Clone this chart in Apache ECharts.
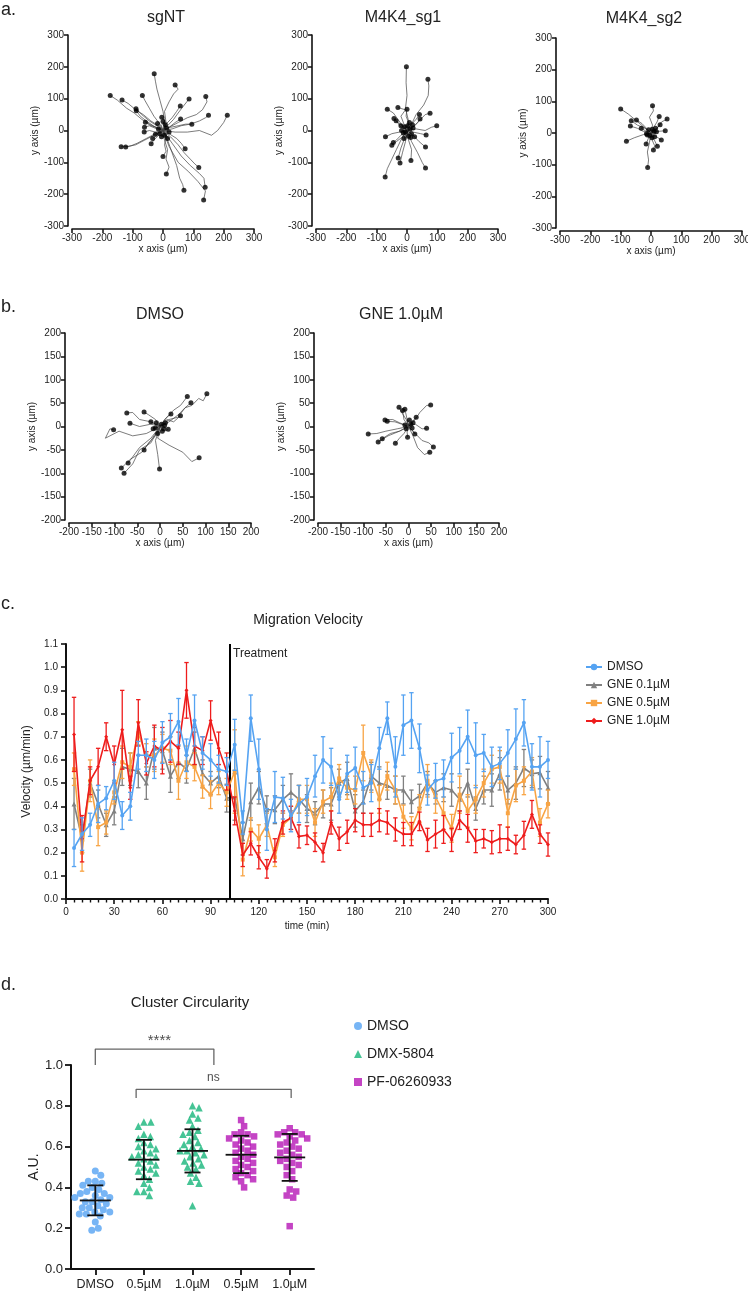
<!DOCTYPE html>
<html><head><meta charset="utf-8">
<script src="https://cdn.jsdelivr.net/npm/echarts@6/dist/echarts.min.js"></script>
<style>html,body{margin:0;padding:0;background:#fff}#c{width:748px;height:1294px}</style>
</head><body><div id="c"></div>
<script>
const FONT = 'Arial, "Liberation Sans", sans-serif';

// ---------- Panel a / b : cell trajectories (µm), each track starts at origin ----------
const TRACKS_SGNT = [
 [[0,0],[-20,8],[-45,20],[-70,35],[-95,55],[-120,70],[-150,95],[-174,110]],
 [[0,0],[-15,15],[-40,30],[-65,50],[-90,65],[-115,85],[-135,96]],
 [[0,0],[-10,20],[-30,45],[-45,70],[-60,95],[-68,110]],
 [[0,0],[5,30],[0,60],[-10,95],[-20,130],[-25,155],[-29,178]],
 [[0,0],[10,25],[5,60],[20,90],[35,115],[50,130],[40,143]],
 [[0,0],[15,15],[35,35],[50,55],[70,80],[86,99]],
 [[0,0],[20,10],[50,25],[80,40],[110,50],[130,65],[145,90],[141,107]],
 [[0,0],[10,20],[30,40],[45,60],[57,77]],
 [[0,0],[30,5],[60,15],[90,20],[120,30],[140,40],[150,48]],
 [[0,0],[40,-5],[80,-5],[120,0],[160,-15],[180,0],[200,25],[212,48]],
 [[0,0],[25,10],[50,15],[75,20],[95,20]],
 [[0,0],[20,10],[40,25],[58,36]],
 [[0,0],[-20,15],[-45,30],[-70,50],[-89,68]],
 [[0,0],[-25,10],[-55,30],[-75,45],[-88,62]],
 [[0,0],[-20,10],[-40,15],[-58,26]],
 [[0,0],[-20,5],[-45,15],[-61,10]],
 [[0,0],[-25,-5],[-45,0],[-62,-5]],
 [[0,0],[-5,15],[5,30],[-4,42]],
 [[0,0],[8,12],[0,28]],
 [[0,0],[-30,-15],[-60,-30],[-90,-45],[-115,-50],[-138,-51]],
 [[0,0],[-25,-10],[-55,-25],[-85,-40],[-105,-48],[-123,-52]],
 [[0,0],[-15,-10],[-34,-25]],
 [[0,0],[-15,-15],[-30,-30],[-39,-42]],
 [[0,0],[10,-20],[5,-45],[10,-65],[0,-82]],
 [[0,0],[5,-30],[15,-60],[10,-90],[20,-115],[11,-137]],
 [[0,0],[20,-10],[45,-25],[60,-40],[73,-57]],
 [[0,0],[25,-20],[50,-45],[70,-70],[90,-90],[105,-105],[118,-116]],
 [[0,0],[15,-30],[30,-70],[45,-110],[55,-150],[65,-170],[69,-188]],
 [[0,0],[30,-40],[60,-80],[90,-110],[120,-135],[135,-150],[139,-178]],
 [[0,0],[20,-50],[50,-100],[85,-130],[115,-160],[140,-190],[134,-218]],
 [[0,0],[-6,-4],[-10,-10]],[[0,0],[3,-8],[5,-15]],[[0,0],[-8,2],[-15,5]],
 [[0,0],[6,6],[12,8]],[[0,0],[-2,-10],[-5,-20]],[[0,0],[10,-2],[20,-5]],
 [[0,0],[-12,-5],[-25,-12]],[[0,0],[4,9],[8,18]],[[0,0],[-9,12],[-18,22]],[[0,0],[8,-12],[15,-25]]
];
const TRACKS_SG1 = [
 [[0,0],[5,30],[-5,70],[0,110],[-3,150],[-2,200]],
 [[0,0],[15,20],[30,50],[55,80],[70,110],[72,140],[69,161]],
 [[0,0],[-15,15],[-30,35],[-45,55],[-65,67]],
 [[0,0],[-10,20],[-20,45],[-5,65],[-30,72]],
 [[0,0],[5,25],[-3,45],[0,67]],
 [[0,0],[25,15],[45,35],[60,50],[76,54]],
 [[0,0],[15,20],[30,35],[41,50]],
 [[0,0],[20,10],[35,25],[43,36]],
 [[0,0],[30,5],[60,0],[80,10],[98,15]],
 [[0,0],[-15,15],[-30,25],[-43,38]],
 [[0,0],[-20,10],[-36,31]],
 [[0,0],[-25,-5],[-50,-10],[-71,-20]],
 [[0,0],[-20,-15],[-35,-30],[-45,-38]],
 [[0,0],[-15,-20],[-35,-35],[-50,-46]],
 [[0,0],[20,-5],[45,-10],[63,-14]],
 [[0,0],[20,-15],[40,-35],[61,-52]],
 [[0,0],[-10,-30],[-20,-55],[-29,-86]],
 [[0,0],[-5,-35],[-15,-70],[-23,-102]],
 [[0,0],[5,-30],[15,-60],[13,-94]],
 [[0,0],[15,-35],[35,-70],[50,-100],[61,-118]],
 [[0,0],[-20,-30],[-35,-60],[-50,-90],[-65,-120],[-72,-146]],
 [[0,0],[5,2],[10,5]],[[0,0],[-4,6],[-8,12]],[[0,0],[8,-5],[15,-10]],[[0,0],[-6,-4],[-12,-8]],
 [[0,0],[2,-9],[5,-18]],[[0,0],[10,4],[20,8]],[[0,0],[-9,0],[-18,0]],[[0,0],[1,8],[2,15]],
 [[0,0],[6,-11],[12,-22]],[[0,0],[-3,-2],[-5,-5]],[[0,0],[12,-10],[25,-20]],[[0,0],[4,12],[8,25]],
 [[0,0],[-10,8],[-20,15]],[[0,0],[9,9],[18,18]],[[0,0],[-5,-12],[-10,-25]]
];
const TRACKS_SG2 = [
 [[0,0],[-25,20],[-50,40],[-75,60],[-100,76]],
 [[0,0],[5,25],[-5,50],[8,70],[5,86]],
 [[0,0],[10,20],[20,35],[27,52]],
 [[0,0],[20,15],[35,35],[53,44]],
 [[0,0],[-20,15],[-45,25],[-65,39]],
 [[0,0],[-15,15],[-30,30],[-48,41]],
 [[0,0],[-25,5],[-45,15],[-68,22]],
 [[0,0],[-15,5],[-32,15]],
 [[0,0],[15,10],[30,26]],
 [[0,0],[20,5],[47,7]],
 [[0,0],[15,-10],[34,-22]],
 [[0,0],[10,-20],[21,-42]],
 [[0,0],[5,-25],[12,-40],[8,-54]],
 [[0,0],[-25,-5],[-55,-15],[-81,-26]],
 [[0,0],[-8,-15],[-16,-35]],
 [[0,0],[-5,-30],[-12,-60],[-8,-85],[-11,-109]],
 [[0,0],[5,2],[10,5]],[[0,0],[-4,5],[-8,10]],[[0,0],[6,-6],[12,-12]],[[0,0],[-6,-3],[-12,-6]],
 [[0,0],[2,-8],[3,-15]],[[0,0],[9,2],[18,4]],[[0,0],[-8,-1],[-15,-2]],[[0,0],[2,6],[4,12]],
 [[0,0],[-2,-4],[-4,-8]],[[0,0],[8,8],[15,15]]
];
const TRACKS_DMSO = [
 [[0,0],[20,15],[40,20],[55,40],[70,45],[85,60],[95,55],[103,70]],
 [[0,0],[15,20],[30,35],[45,45],[60,64]],
 [[0,0],[20,10],[40,25],[55,40],[68,51]],
 [[0,0],[15,15],[30,10],[45,23]],
 [[0,0],[10,15],[24,27]],
 [[0,0],[10,-10],[18,-6]],
 [[0,0],[-20,10],[-45,15],[-60,30],[-73,29]],
 [[0,0],[-20,5],[-45,0],[-66,7]],
 [[0,0],[-30,-15],[-60,-20],[-90,-10],[-120,-25],[-110,-5],[-102,-7]],
 [[0,0],[-10,15],[-25,25],[-35,31]],
 [[0,0],[-10,-20],[-25,-35],[-35,-50]],
 [[0,0],[-10,-30],[-5,-60],[-1,-91]],
 [[0,0],[-20,-25],[-45,-45],[-60,-65],[-70,-78]],
 [[0,0],[-20,-30],[-40,-55],[-65,-70],[-85,-89]],
 [[0,0],[-20,-35],[-45,-50],[-60,-80],[-79,-100]],
 [[0,0],[-5,-25],[20,-40],[50,-55],[70,-75],[86,-67]],
 [[0,0],[5,1],[10,2]],[[0,0],[-4,4],[-8,8]],[[0,0],[2,-5],[5,-10]],[[0,0],[-8,-2],[-15,-5]],
 [[0,0],[6,4],[12,8]],[[0,0],[-2,-8],[-5,-15]],[[0,0],[-10,5],[-20,10]],[[0,0],[2,2],[3,5]],
 [[0,0],[-5,-1],[-10,-3]],[[0,0],[4,-2],[8,-5]]
];
const TRACKS_GNE = [
 [[0,0],[15,15],[25,30],[40,45],[49,46]],
 [[0,0],[-5,15],[-15,30],[-21,41]],
 [[0,0],[-3,15],[-8,37]],
 [[0,0],[-10,15],[-13,34]],
 [[0,0],[8,10],[17,20]],
 [[0,0],[-20,8],[-35,15],[-52,14]],
 [[0,0],[-15,5],[-30,10],[-47,11]],
 [[0,0],[-3,8],[2,14]],
 [[0,0],[15,5],[30,-5],[40,-4]],
 [[0,0],[-25,-5],[-50,-10],[-70,-15],[-89,-16]],
 [[0,0],[-20,-10],[-45,-20],[-67,-33]],
 [[0,0],[-20,-10],[-40,-15],[-58,-26]],
 [[0,0],[-10,-15],[-20,-25],[-29,-36]],
 [[0,0],[-3,-12],[-2,-23]],
 [[0,0],[15,-15],[30,-30],[45,-35],[55,-44]],
 [[0,0],[10,-20],[20,-45],[35,-60],[47,-55]],
 [[0,0],[8,-8],[14,-16]],
 [[0,0],[3,2],[5,5]],[[0,0],[-2,-3],[-5,-5]],[[0,0],[4,-1],[8,-3]],[[0,0],[-4,2],[-8,3]],[[0,0],[5,4],[10,8]]
];

// ---------- Panel c : migration velocity ----------
const TIMES = [5,10,15,20,25,30,35,40,45,50,55,60,65,70,75,80,85,90,95,100,
 105,110,115,120,125,130,135,140,145,150,155,160,165,170,175,180,185,190,195,200,
 205,210,215,220,225,230,235,240,245,250,255,260,265,270,275,280,285,290,295,300];
const DMSO_V = [0.22,0.28,0.32,0.41,0.435,0.51,0.36,0.40,0.62,0.62,
 0.60,0.675,0.70,0.765,0.62,0.77,0.63,0.60,0.56,0.55,
 0.665,0.33,0.78,0.56,0.30,0.44,0.435,0.36,0.41,0.44,
 0.53,0.60,0.57,0.43,0.54,0.565,0.48,0.50,0.65,0.78,
 0.57,0.75,0.77,0.65,0.47,0.51,0.52,0.61,0.64,0.70,
 0.62,0.63,0.57,0.585,0.63,0.69,0.76,0.57,0.57,0.60];
const DMSO_E = [0.08,0.07,0.05,0.08,0.05,0.08,0.06,0.06,0.06,0.07,
 0.08,0.09,0.10,0.10,0.07,0.11,0.07,0.07,0.06,0.06,
 0.11,0.05,0.10,0.13,0.09,0.11,0.09,0.07,0.08,0.08,
 0.09,0.10,0.08,0.06,0.08,0.09,0.07,0.08,0.09,0.07,
 0.13,0.13,0.12,0.105,0.065,0.075,0.08,0.105,0.10,0.115,
 0.14,0.08,0.085,0.07,0.10,0.13,0.10,0.10,0.13,0.08];
const G01_V = [0.41,0.26,0.50,0.41,0.32,0.38,0.57,0.56,0.55,0.50,
 0.65,0.64,0.53,0.59,0.56,0.65,0.54,0.50,0.53,0.435,
 0.44,0.26,0.42,0.48,0.385,0.385,0.43,0.46,0.43,0.39,
 0.37,0.41,0.41,0.50,0.52,0.38,0.42,0.53,0.50,0.49,
 0.47,0.47,0.42,0.445,0.50,0.46,0.48,0.47,0.43,0.50,
 0.39,0.47,0.47,0.54,0.47,0.50,0.565,0.54,0.545,0.48];
const G01_E = [0.11,0.06,0.06,0.06,0.05,0.06,0.08,0.07,0.07,0.07,
 0.09,0.08,0.07,0.07,0.06,0.07,0.06,0.05,0.05,0.06,
 0.10,0.07,0.08,0.07,0.06,0.06,0.06,0.08,0.06,0.06,
 0.05,0.06,0.07,0.06,0.07,0.07,0.05,0.06,0.07,0.06,
 0.06,0.06,0.05,0.05,0.05,0.05,0.06,0.07,0.05,0.06,
 0.05,0.06,0.07,0.07,0.06,0.07,0.08,0.06,0.07,0.07];
const G05_V = [0.56,0.20,0.51,0.31,0.33,0.46,0.59,0.57,0.715,0.62,
 0.62,0.65,0.64,0.51,0.59,0.57,0.485,0.45,0.50,0.46,
 0.55,0.17,0.30,0.26,0.32,0.18,0.32,0.35,0.43,0.43,
 0.33,0.42,0.44,0.52,0.48,0.47,0.63,0.53,0.43,0.53,
 0.47,0.355,0.305,0.39,0.51,0.44,0.37,0.305,0.45,0.38,
 0.43,0.50,0.56,0.57,0.37,0.49,0.51,0.55,0.33,0.41];
const G05_E = [0.07,0.08,0.09,0.08,0.05,0.05,0.07,0.06,0.05,0.05,
 0.07,0.06,0.06,0.08,0.07,0.06,0.05,0.06,0.05,0.06,
 0.18,0.07,0.05,0.06,0.05,0.04,0.05,0.05,0.06,0.06,
 0.06,0.05,0.06,0.06,0.05,0.06,0.12,0.07,0.06,0.06,
 0.06,0.05,0.05,0.06,0.07,0.07,0.07,0.06,0.08,0.07,
 0.06,0.06,0.06,0.07,0.06,0.07,0.06,0.06,0.06,0.06];
const G10_V = [0.71,0.26,0.51,0.57,0.70,0.58,0.73,0.48,0.76,0.585,
 0.66,0.64,0.68,0.65,0.90,0.66,0.64,0.77,0.65,0.55,
 0.38,0.19,0.24,0.18,0.13,0.21,0.33,0.35,0.27,0.275,
 0.245,0.20,0.33,0.26,0.29,0.34,0.32,0.32,0.34,0.33,
 0.30,0.28,0.28,0.335,0.255,0.28,0.30,0.255,0.34,0.305,
 0.25,0.26,0.245,0.26,0.26,0.235,0.275,0.365,0.28,0.235];
const G10_E = [0.16,0.10,0.06,0.08,0.06,0.08,0.17,0.05,0.10,0.05,
 0.09,0.10,0.09,0.07,0.12,0.08,0.06,0.085,0.07,0.08,
 0.06,0.05,0.05,0.05,0.04,0.05,0.05,0.05,0.05,0.04,
 0.04,0.04,0.05,0.05,0.05,0.05,0.05,0.05,0.05,0.05,
 0.05,0.05,0.05,0.04,0.05,0.06,0.06,0.05,0.04,0.06,
 0.05,0.04,0.05,0.06,0.05,0.04,0.06,0.06,0.04,0.05];
const TREATMENT_TIME = 102;
const C_NAMES = ['DMSO','GNE 0.1µM','GNE 0.5µM','GNE 1.0µM'];

// ---------- Panel d : cluster circularity ----------
const D_CATS = ['DMSO','0.5µM','1.0µM','0.5µM','1.0µM'];
const D_LEGEND = ['DMSO','DMX-5804','PF-06260933'];
const CIRC_DMSO = [0.48,0.46,0.43,0.42,0.43,0.41,0.40,0.39,0.38,0.37,0.37,0.36,0.35,0.35,0.34,0.33,0.33,0.32,0.31,0.30,0.30,0.29,0.28,0.28,0.27,0.27,0.26,0.23,0.20,0.19];
const CIRC_DMX05 = [0.72,0.72,0.70,0.66,0.65,0.64,0.62,0.61,0.60,0.59,0.58,0.57,0.56,0.55,0.55,0.54,0.53,0.52,0.51,0.50,0.49,0.48,0.47,0.46,0.44,0.42,0.40,0.38,0.38,0.36];
const CIRC_DMX10 = [0.80,0.79,0.76,0.74,0.73,0.70,0.68,0.67,0.66,0.65,0.63,0.62,0.61,0.60,0.59,0.58,0.58,0.57,0.56,0.55,0.54,0.53,0.52,0.51,0.50,0.49,0.47,0.45,0.43,0.42,0.31];
const CIRC_PF05 = [0.73,0.70,0.67,0.66,0.66,0.65,0.64,0.63,0.62,0.61,0.60,0.59,0.58,0.57,0.56,0.55,0.54,0.53,0.52,0.51,0.50,0.49,0.48,0.47,0.46,0.45,0.44,0.43,0.40];
const CIRC_PF10 = [0.69,0.67,0.67,0.66,0.66,0.65,0.64,0.63,0.62,0.61,0.60,0.59,0.58,0.57,0.56,0.55,0.54,0.53,0.52,0.51,0.50,0.48,0.46,0.44,0.39,0.38,0.36,0.35,0.21];
const D_MEAN = [0.336,0.536,0.579,0.560,0.547];
const D_SD_LO = [0.263,0.440,0.473,0.470,0.432];
const D_SD_HI = [0.410,0.633,0.685,0.653,0.662];
const SIG_LABELS = ['****','ns'];

// ---------- build ----------
const BLUE='#55a3f2', GRAY='#808080', ORANGE='#f8a444', RED='#ee1c1c';
const GREEN='#17b57a', MAGENTA='#b515b5';

const chart = echarts.init(document.getElementById('c'), null, {renderer:'canvas'});

function axBase(fs){
  return {
    axisLine:{show:true,onZero:false,lineStyle:{color:'#111',width:1.6}},
    axisTick:{show:true,inside:false,length:4,lineStyle:{color:'#111',width:1.5}},
    axisLabel:{color:'#222',fontSize:fs,fontFamily:FONT,margin:4},
    splitLine:{show:false},
    nameTextStyle:{color:'#222',fontSize:10,fontFamily:FONT}
  };
}

const grids = [
  {left:72,top:35,width:182,height:191},
  {left:316,top:35,width:182,height:191},
  {left:560,top:38,width:182,height:190},
  {left:69,top:333,width:182,height:187},
  {left:318,top:333,width:181,height:187},
  {left:66,top:644,width:482,height:255},
  {left:71,top:1065,width:243,height:204}
].map(g=>Object.assign({containLabel:false,outerBoundsMode:'none'},g));

const xAxes=[], yAxes=[], series=[];
const trackPanels = [
  {tracks:TRACKS_SGNT,R:300,step:100,ng:13},
  {tracks:TRACKS_SG1,R:300,step:100,ng:13},
  {tracks:TRACKS_SG2,R:300,step:100,ng:13},
  {tracks:TRACKS_DMSO,R:200,step:50,ng:14},
  {tracks:TRACKS_GNE,R:200,step:50,ng:14}
];
trackPanels.forEach((p,i)=>{
  xAxes.push(Object.assign(axBase(10),{gridIndex:i,type:'value',min:-p.R,max:p.R,interval:p.step,offset:3,
    name:'x axis (µm)',nameLocation:'middle',nameGap:p.ng}));
  yAxes.push(Object.assign(axBase(10),{gridIndex:i,type:'value',min:-p.R,max:p.R,interval:p.step,offset:4,
    name:'y axis (µm)',nameLocation:'middle',nameGap:27}));
  series.push({type:'lines',coordinateSystem:'cartesian2d',xAxisIndex:i,yAxisIndex:i,polyline:true,silent:true,
    data:p.tracks.map(t=>({coords:t})),lineStyle:{color:'#444',width:0.7,opacity:1}});
  series.push({type:'scatter',xAxisIndex:i,yAxisIndex:i,silent:true,symbol:'circle',symbolSize:5,
    itemStyle:{color:'#000'},data:p.tracks.map(t=>t[t.length-1]),z:3});
});

// panel c axes (index 5)
xAxes.push(Object.assign(axBase(10),{gridIndex:5,type:'value',min:0,max:300,interval:30,
  axisLine:{show:true,onZero:false,lineStyle:{color:'#111',width:2}},
  axisTick:{show:true,length:5,lineStyle:{color:'#111',width:1.6}},
  minorTick:{show:true,splitNumber:6,length:3.5,lineStyle:{color:'#111',width:1.4}},
  axisLabel:{color:'#222',fontSize:10,fontFamily:FONT,margin:8},
  name:'time (min)',nameLocation:'middle',nameGap:22,nameTextStyle:{color:'#222',fontSize:10,fontFamily:FONT}}));
yAxes.push(Object.assign(axBase(10),{gridIndex:5,type:'value',min:0,max:1.1,interval:0.1,
  axisLine:{show:true,onZero:false,lineStyle:{color:'#111',width:2}},
  axisTick:{show:true,length:5,lineStyle:{color:'#111',width:1.6}},
  axisLabel:{color:'#222',fontSize:10,fontFamily:FONT,margin:8,formatter:v=>v.toFixed(1)},
  name:'Velocity (µm/min)',nameLocation:'middle',nameGap:33,nameTextStyle:{color:'#222',fontSize:12,fontFamily:FONT}}));

function errBars(vals,errs,color,z){
  return {type:'custom',xAxisIndex:5,yAxisIndex:5,silent:true,z:z,
    data:TIMES.map((t,i)=>[t,vals[i]-errs[i],vals[i]+errs[i]]),
    encode:{x:0,y:[1,2]},
    renderItem:(params,api)=>{
      const lo=api.coord([api.value(0),api.value(1)]);
      const hi=api.coord([api.value(0),api.value(2)]);
      const w=2.2, st={stroke:color,lineWidth:1.3};
      return {type:'group',children:[
        {type:'line',shape:{x1:lo[0],y1:lo[1],x2:hi[0],y2:hi[1]},style:st},
        {type:'line',shape:{x1:lo[0]-w,y1:lo[1],x2:lo[0]+w,y2:lo[1]},style:st},
        {type:'line',shape:{x1:hi[0]-w,y1:hi[1],x2:hi[0]+w,y2:hi[1]},style:st}]};
    }};
}
function velLine(name,vals,color,symbol,size,z){
  return {type:'line',name:name,xAxisIndex:5,yAxisIndex:5,z:z,symbol:symbol,symbolSize:size,showSymbol:true,
    itemStyle:{color:color},lineStyle:{color:color,width:1.6},
    data:TIMES.map((t,i)=>[t,vals[i]])};
}
series.push(errBars(G01_V,G01_E,GRAY,2), velLine(C_NAMES[1],G01_V,GRAY,'triangle',5,3));
series.push(errBars(G05_V,G05_E,ORANGE,4), velLine(C_NAMES[2],G05_V,ORANGE,'rect',4,5));
series.push(errBars(G10_V,G10_E,RED,6), velLine(C_NAMES[3],G10_V,RED,'diamond',4,7));
series.push(errBars(DMSO_V,DMSO_E,BLUE,8), velLine(C_NAMES[0],DMSO_V,BLUE,'circle',4,9));
series[series.length-1].markLine = {silent:true,symbol:['none','none'],label:{show:false},
  lineStyle:{color:'#000',width:2,type:'solid'},data:[{xAxis:TREATMENT_TIME}]};

// panel d axes: x index 6 (category display), x index 7 (value, hidden); y index 6
xAxes.push({gridIndex:6,type:'category',data:['c1','c2','c3','c4','c5'],boundaryGap:true,
  axisLine:{show:true,onZero:false,lineStyle:{color:'#111',width:2}},
  axisTick:{show:true,alignWithLabel:true,interval:0,length:6,lineStyle:{color:'#111',width:1.8}},
  axisLabel:{color:'#222',fontSize:12.5,fontFamily:FONT,margin:9,interval:0,hideOverlap:false,formatter:(v,i)=>D_CATS[i]},
  splitLine:{show:false}});
xAxes.push({gridIndex:6,type:'value',min:0.5,max:5.5,show:false});
yAxes.push({gridIndex:6,type:'value',min:0,max:1.0,interval:0.2,
  axisLine:{show:true,onZero:false,lineStyle:{color:'#111',width:2}},
  axisTick:{show:true,length:6,lineStyle:{color:'#111',width:1.8}},
  axisLabel:{color:'#222',fontSize:13,fontFamily:FONT,margin:8,formatter:v=>v.toFixed(1)},
  splitLine:{show:false},
  name:'A.U.',nameLocation:'middle',nameGap:30,nameTextStyle:{color:'#222',fontSize:14,fontFamily:FONT}});

// deterministic beeswarm layout (pixel-space collision avoidance)
function swarm(values,center){
  const pxX=48.6, pxY=204, d=6.7;
  const idx=values.map((v,i)=>i).sort((a,b)=>values[b]-values[a]);
  const placed=[], out=[];
  idx.forEach(i=>{
    const y=values[i]*pxY;
    let off=0;
    for(let k=0;k<400;k++){
      const c=(k%2?1:-1)*Math.ceil(k/2)*0.5;
      if(placed.every(p=>(p[0]-c)*(p[0]-c)+(p[1]-y)*(p[1]-y)>=d*d)){off=c;break;}
    }
    placed.push([off,y]);
    out.push([center+off/pxX,values[i]]);
  });
  return out;
}
const dBase={type:'scatter',xAxisIndex:7,yAxisIndex:6,silent:true,z:3};
series.push(Object.assign({},dBase,{name:'dDMSO',symbol:'circle',symbolSize:7,itemStyle:{color:BLUE},
  data:swarm(CIRC_DMSO,1)}));
series.push(Object.assign({},dBase,{name:'dDMX',symbol:'triangle',symbolSize:7.5,itemStyle:{color:GREEN},
  data:swarm(CIRC_DMX05,2).concat(swarm(CIRC_DMX10,3))}));
series.push(Object.assign({},dBase,{name:'dPF',symbol:'rect',symbolSize:6.5,itemStyle:{color:MAGENTA},
  data:swarm(CIRC_PF05,4).concat(swarm(CIRC_PF10,5))}));
// mean ± SD
series.push({type:'custom',xAxisIndex:7,yAxisIndex:6,silent:true,z:5,
  data:D_MEAN.map((m,i)=>[i+1,m,D_SD_LO[i],D_SD_HI[i]]),encode:{x:0,y:[1,2,3]},
  renderItem:(params,api)=>{
    const m=api.coord([api.value(0),api.value(1)]);
    const lo=api.coord([api.value(0),api.value(2)]);
    const hi=api.coord([api.value(0),api.value(3)]);
    const st={stroke:'#111',lineWidth:1.8};
    return {type:'group',children:[
      {type:'line',shape:{x1:m[0]-15.5,y1:m[1],x2:m[0]+15.5,y2:m[1]},style:st},
      {type:'line',shape:{x1:lo[0],y1:lo[1],x2:hi[0],y2:hi[1]},style:st},
      {type:'line',shape:{x1:lo[0]-8,y1:lo[1],x2:lo[0]+8,y2:lo[1]},style:st},
      {type:'line',shape:{x1:hi[0]-8,y1:hi[1],x2:hi[0]+8,y2:hi[1]},style:st}]};
  }});
// significance brackets (annotation geometry in data units)
const BRACKETS=[{x1:1,x2:3.44,top:1.078,foot:1.0,lx:2.32,ly:1.118},
                {x1:1.84,x2:5.03,top:0.881,foot:0.838,lx:3.43,ly:0.938}];
BRACKETS.forEach((b,i)=>{
  series.push({type:'line',xAxisIndex:7,yAxisIndex:6,silent:true,clip:false,symbol:'none',z:4,
    lineStyle:{color:'#666',width:1.3},data:[[b.x1,b.foot],[b.x1,b.top],[b.x2,b.top],[b.x2,b.foot]]});
  series.push({type:'scatter',xAxisIndex:7,yAxisIndex:6,silent:true,clip:false,symbolSize:0,z:4,
    label:{show:true,position:'inside',formatter:SIG_LABELS[i],color:'#222',fontSize:i===0?15:12,fontFamily:FONT},
    data:[[b.lx,b.ly]]});
});

function txt(s,x,y,size,align){
  return {type:'text',x:x,y:y,silent:true,style:{text:s,fill:'#222',font:size+'px '+FONT,
    align:align||'center',verticalAlign:'middle'}};
}

chart.setOption({
  animation:false,
  backgroundColor:'#fff',
  textStyle:{fontFamily:FONT},
  grid:grids, xAxis:xAxes, yAxis:yAxes, series:series,
  legend:[
    {data:[C_NAMES[0],C_NAMES[1],C_NAMES[2],C_NAMES[3]],orient:'vertical',left:580,top:656,
     itemWidth:16,itemHeight:8,itemGap:6,selectedMode:false,
     textStyle:{color:'#222',fontSize:12,fontFamily:FONT}},
    {data:['dDMSO','dDMX','dPF'],orient:'vertical',left:349,top:1014,itemWidth:8,itemHeight:8,itemGap:14,
     selectedMode:false,formatter:n=>({dDMSO:D_LEGEND[0],dDMX:D_LEGEND[1],dPF:D_LEGEND[2]})[n],
     textStyle:{color:'#222',fontSize:14,fontFamily:FONT}}
  ],
  graphic:[
    txt('a.',1,10,18,'left'), txt('sgNT',166,18,16), txt('M4K4_sg1',403,18,16), txt('M4K4_sg2',644,19,16),
    txt('b.',1,307,18,'left'), txt('DMSO',160,315,16), txt('GNE 1.0µM',401,315,16),
    txt('c.',1,604,18,'left'), txt('Migration Velocity',308,620,14),
    txt('Treatment',233,654,12,'left'),
    txt('d.',1,985,18,'left'), txt('Cluster Circularity',190,1003,15)
  ]
});
</script>
</body></html>
